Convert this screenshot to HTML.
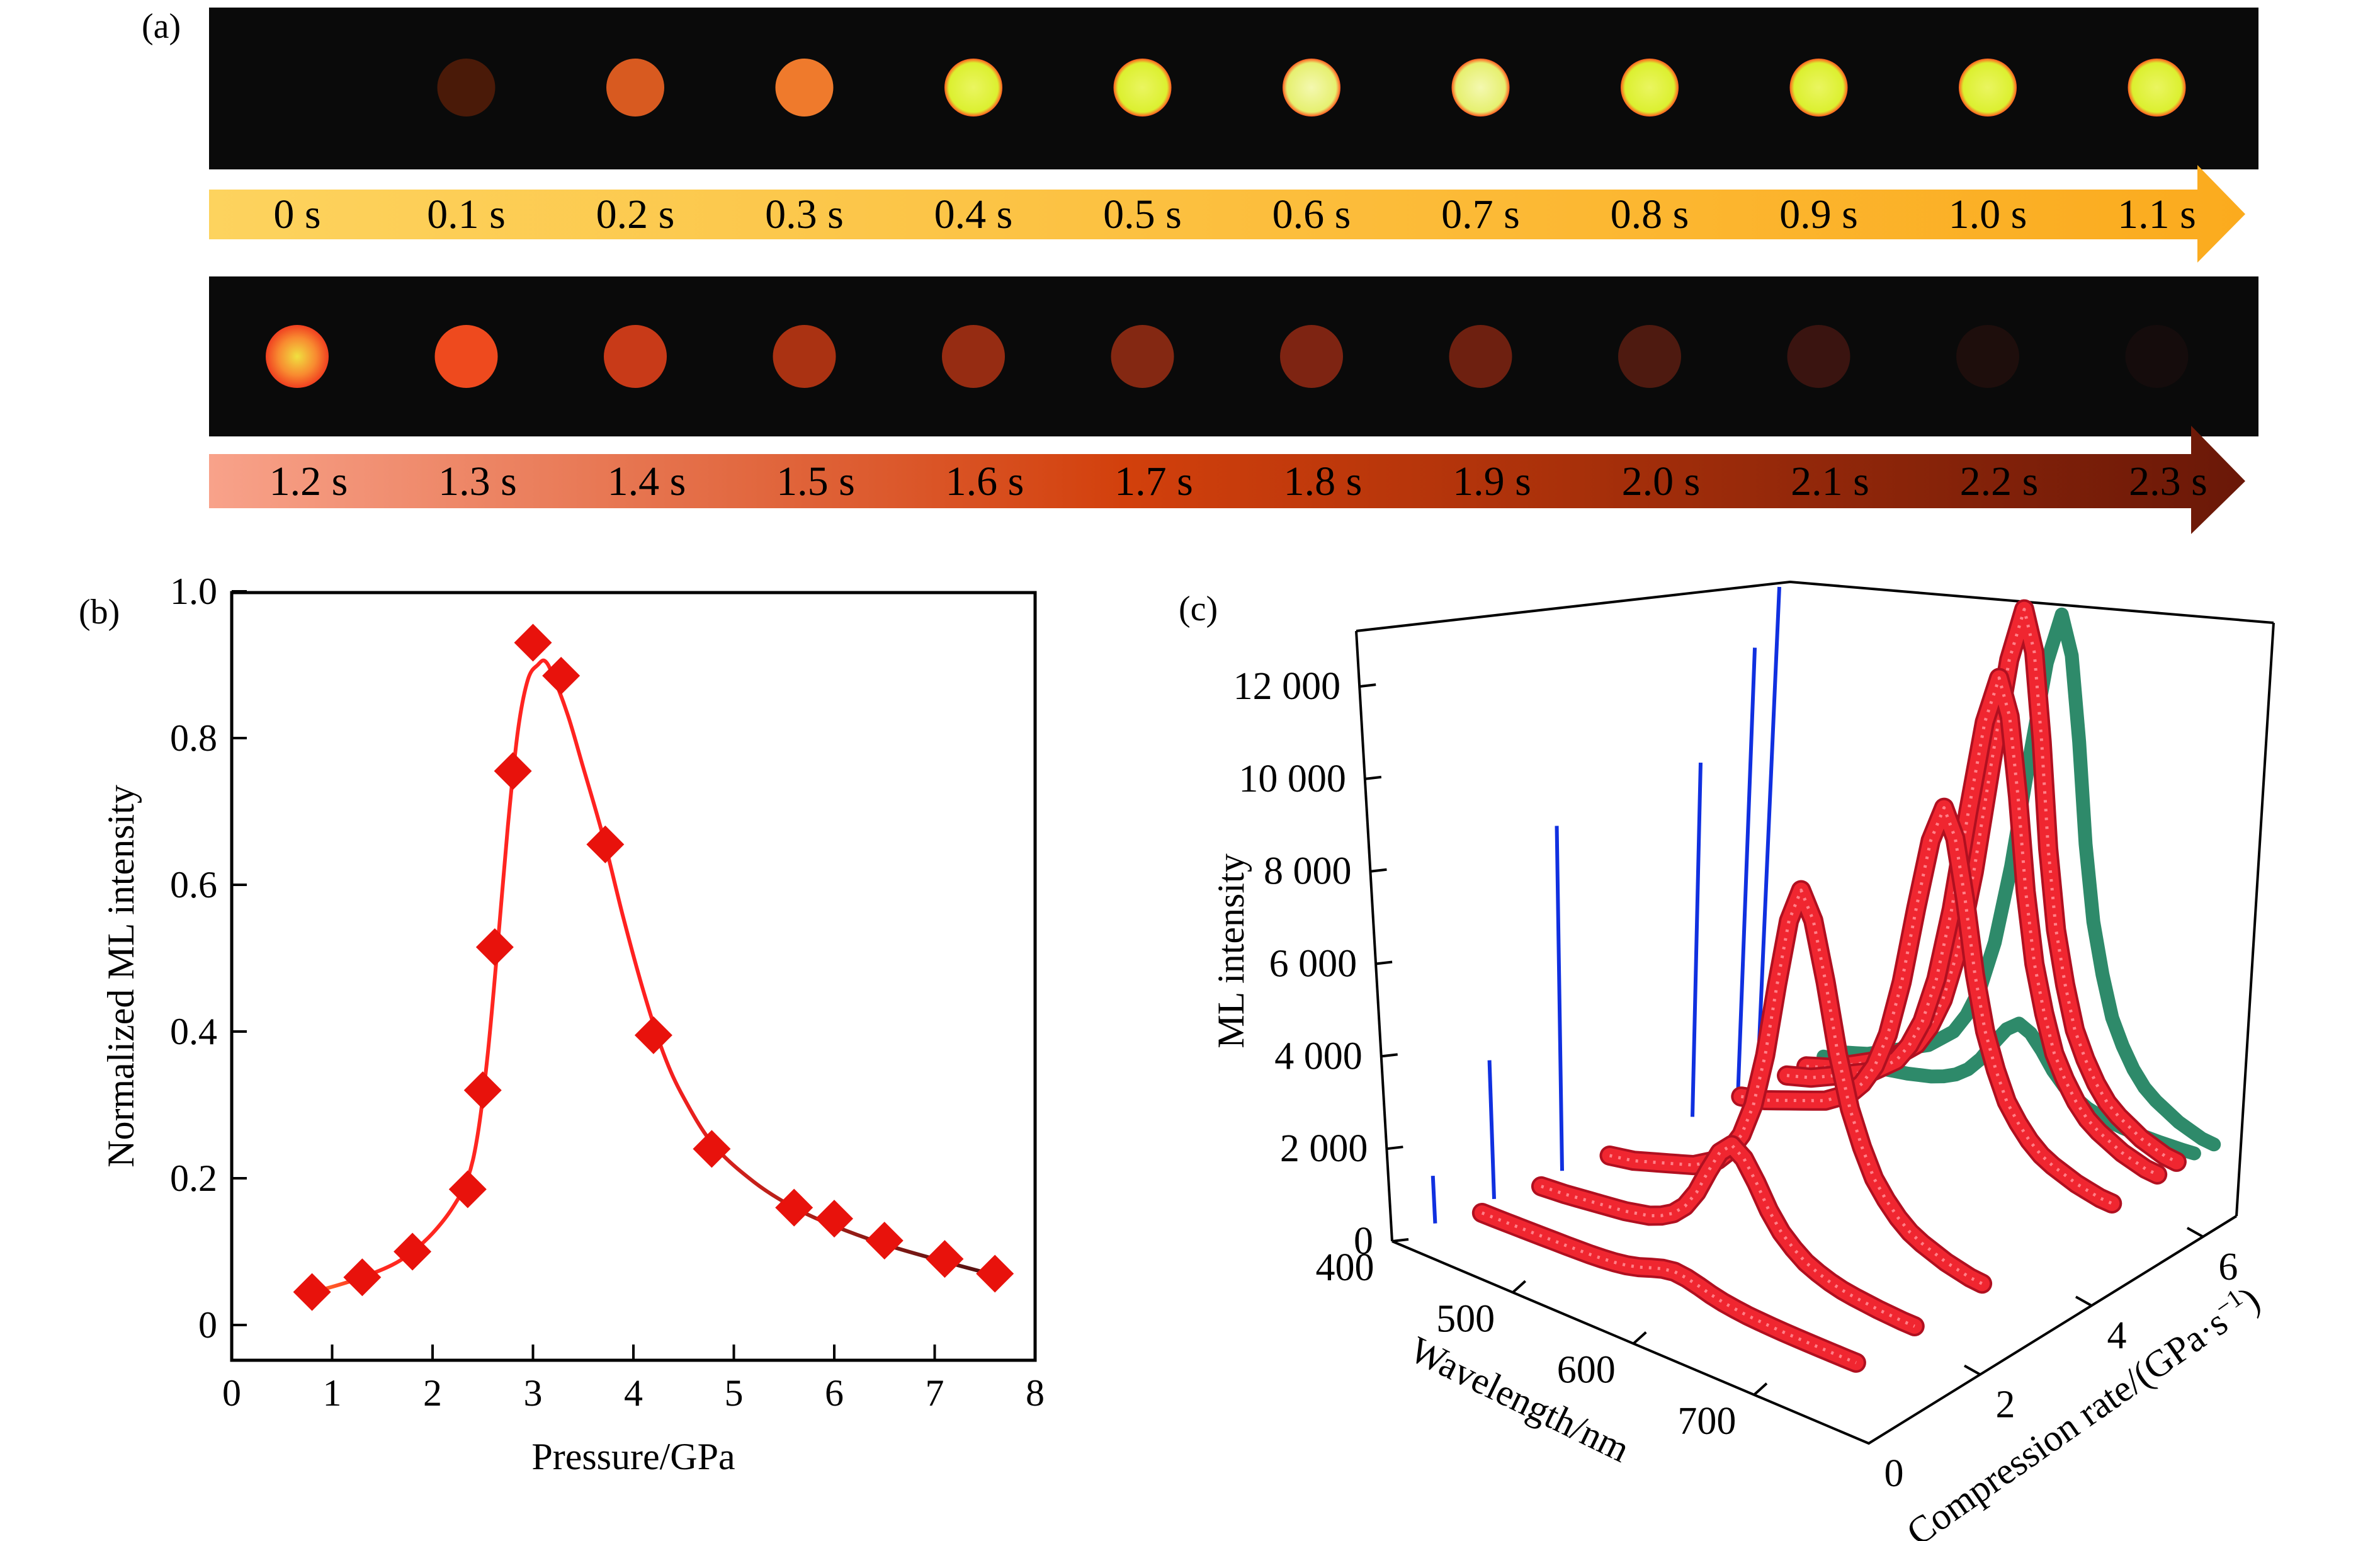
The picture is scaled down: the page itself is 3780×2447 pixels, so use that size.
<!DOCTYPE html>
<html><head><meta charset="utf-8"><style>
html,body{margin:0;padding:0;background:#fff}
svg{display:block}
text{font-family:"Liberation Serif",serif;fill:#000}
</style></head><body>
<svg id="fig" width="3780" height="2447" viewBox="0 0 3780 2447" xmlns="http://www.w3.org/2000/svg">
<defs>
<linearGradient id="gTop" x1="0" x2="1" y1="0" y2="0"><stop offset="0" stop-color="#fdd35e"/><stop offset="1" stop-color="#fbab1e"/></linearGradient>
<linearGradient id="gBot" x1="0" x2="1" y1="0" y2="0"><stop offset="0" stop-color="#f8a28a"/><stop offset="0.45" stop-color="#d2400c"/><stop offset="1" stop-color="#6a1808"/></linearGradient>
<linearGradient id="gFit" gradientUnits="userSpaceOnUse" x1="470" x2="1600" y1="0" y2="0"><stop offset="0" stop-color="#ff8a30"/><stop offset="0.1" stop-color="#ff2a20"/><stop offset="0.5" stop-color="#ff2020"/><stop offset="0.7" stop-color="#b02018"/><stop offset="1" stop-color="#4a1010"/></linearGradient>
<radialGradient id="gYel"><stop offset="0" stop-color="#eaf560"/><stop offset="0.85" stop-color="#dcf030"/><stop offset="1" stop-color="#ff5a20"/></radialGradient>
<radialGradient id="gPale"><stop offset="0" stop-color="#f4f8b0"/><stop offset="0.85" stop-color="#e6f070"/><stop offset="1" stop-color="#ff5a20"/></radialGradient>
<radialGradient id="g12"><stop offset="0" stop-color="#f0e040"/><stop offset="0.6" stop-color="#f88a30"/><stop offset="1" stop-color="#f04020"/></radialGradient>
</defs>

<!-- Panel (a) -->
<g>
<text x="225" y="60" font-size="56">(a)</text>
<rect x="332" y="12" width="3255" height="257" fill="#0a0a0a"/>
<rect x="332" y="439" width="3255" height="254" fill="#0a0a0a"/>
<g id="topCircles"></g>
<g id="botCircles"></g>
<polygon points="332,301 3490,301 3490,262 3566,340 3490,417 3490,380 332,380" fill="url(#gTop)"/>
<polygon points="332,721 3480,721 3480,676 3566,764 3480,848 3480,807 332,807" fill="url(#gBot)"/>
<g id="topLabels"></g>
<g id="botLabels"></g>
</g>

<!-- Panel (b) -->
<g>
<text x="125" y="990" font-size="56">(b)</text>
<rect x="368" y="941" width="1276" height="1219" fill="none" stroke="#000" stroke-width="5"/>
<g id="bTicks"></g>
<path id="fitPath" fill="none" stroke="url(#gFit)" stroke-width="6"/>
<g id="bPoints"></g>
<text x="1006" y="2333" font-size="60" text-anchor="middle">Pressure/GPa</text>
<text transform="translate(212,1550) rotate(-90)" font-size="60" text-anchor="middle">Normalized ML intensity</text>
</g>

<!-- Panel (c) -->
<g>
<text x="1872" y="985" font-size="56">(c)</text>
<g stroke="#000" stroke-width="4" fill="none">
<polyline points="2154,1002 2843,924 3611,989"/>
<line x1="2154" y1="1002" x2="2211" y2="1971"/>
<line x1="3611" y1="989" x2="3552" y2="1931"/>
<polyline points="2211,1971 2968,2292 3552,1931"/>
</g>
<g id="cTicks"></g>
<g id="cSeries"></g>
<text transform="translate(1975,1510) rotate(-90)" font-size="60" text-anchor="middle">ML intensity</text>
<text transform="translate(2405,2240) rotate(26)" font-size="60" text-anchor="middle">Wavelength/nm</text>
<text transform="translate(3320,2265) rotate(-35)" font-size="60" text-anchor="middle">Compression rate/(GPa·s<tspan dy="-22" font-size="40">−1</tspan><tspan dy="22">)</tspan></text>
</g>
</svg>
<script>
var NS='http://www.w3.org/2000/svg';
function mk(tag,attrs,parent){var e=document.createElementNS(NS,tag);for(var k in attrs)e.setAttribute(k,attrs[k]);parent.appendChild(e);return e;}

// ---------- Panel (a) data ----------
var topTimes=['0 s','0.1 s','0.2 s','0.3 s','0.4 s','0.5 s','0.6 s','0.7 s','0.8 s','0.9 s','1.0 s','1.1 s'];
var botTimes=['1.2 s','1.3 s','1.4 s','1.5 s','1.6 s','1.7 s','1.8 s','1.9 s','2.0 s','2.1 s','2.2 s','2.3 s'];
var topFill=['none','#4a1a08','#d85a20','#ef7a2c','url(#gYel)','url(#gYel)','url(#gPale)','url(#gPale)','url(#gYel)','url(#gYel)','url(#gYel)','url(#gYel)'];
var botFill=['url(#g12)','#ee4a1e','#c83a18','#aa3212','#962c12','#842812','#7e2412','#6e2010','#4e1a10','#3a1410','#1e0e0c','#150c0c'];

var tc=document.getElementById('topCircles'),bc=document.getElementById('botCircles');
var tl=document.getElementById('topLabels'),bl=document.getElementById('botLabels');
for(var i=0;i<12;i++){
  var cx=472+268.5*i;
  if(topFill[i]!=='none'){var c=mk('circle',{cx:cx,cy:139,r:46,fill:topFill[i]},tc);
    
    }
  var c2=mk('circle',{cx:cx,cy:566,r:50,fill:botFill[i]},bc);
  
  
  var t=mk('text',{x:cx,y:362,'font-size':66,'text-anchor':'middle'},tl);t.textContent=topTimes[i];
  
  
  var t2=mk('text',{x:cx+18,y:786,'font-size':66,'text-anchor':'middle'},bl);t2.textContent=botTimes[i];
  
  
}

// ---------- Panel (b) data ----------
var pressure=[0.8,1.3,1.8,2.35,2.5,2.62,2.8,3.0,3.28,3.72,4.2,4.78,5.6,6.0,6.5,7.1,7.6];
var intensity=[0.045,0.065,0.1,0.185,0.32,0.515,0.755,0.93,0.885,0.655,0.395,0.24,0.16,0.145,0.115,0.09,0.07];
var fitX=[0.8,1.0,1.3,1.6,1.8,2.0,2.2,2.35,2.45,2.55,2.65,2.75,2.85,2.95,3.05,3.12,3.2,3.35,3.5,3.7,3.9,4.1,4.3,4.5,4.8,5.2,5.6,6.0,6.5,7.0,7.6];
var fitY=[0.045,0.052,0.065,0.082,0.1,0.125,0.16,0.2,0.26,0.37,0.52,0.68,0.81,0.88,0.9,0.905,0.885,0.83,0.76,0.665,0.555,0.455,0.37,0.31,0.245,0.195,0.16,0.135,0.11,0.09,0.068];
var xTicks=[0,1,2,3,4,5,6,7,8];
var yTicks=[0,0.2,0.4,0.6,0.8,1.0];
var yTickLabels=['0','0.2','0.4','0.6','0.8','1.0'];
function bx(v){return 368+v*(1644-368)/8;}
function by(v){return 2104-v*1165;}
var bt=document.getElementById('bTicks');
xTicks.forEach(function(v){
  var l=mk('line',{x1:bx(v),x2:bx(v),y1:2160,y2:2135,stroke:'#000','stroke-width':4},bt);
  
  
  var t=mk('text',{x:bx(v),y:2232,'font-size':60,'text-anchor':'middle'},bt);t.textContent=v;
  
  
});
yTicks.forEach(function(v,k){
  var l=mk('line',{x1:368,x2:392,y1:by(v),y2:by(v),stroke:'#000','stroke-width':4},bt);
  
  
  var t=mk('text',{x:345,y:by(v)+20,'font-size':60,'text-anchor':'end'},bt);t.textContent=yTickLabels[k];
  
  
});
(function(){
  var p=fitX.map(function(x,i){return [bx(x),by(fitY[i])];});
  var d='M'+p[0][0]+','+p[0][1];
  for(var i=0;i<p.length-1;i++){
    var p0=p[Math.max(0,i-1)],p1=p[i],p2=p[i+1],p3=p[Math.min(p.length-1,i+2)];
    d+=' C'+(p1[0]+(p2[0]-p0[0])/6)+','+(p1[1]+(p2[1]-p0[1])/6)+' '+(p2[0]-(p3[0]-p1[0])/6)+','+(p2[1]-(p3[1]-p1[1])/6)+' '+p2[0]+','+p2[1];
  }
  document.getElementById('fitPath').setAttribute('d',d);
})();
var bp=document.getElementById('bPoints');
pressure.forEach(function(x,i){
  var X=bx(x),Y=by(intensity[i]),h=30;
  var m=mk('polygon',{points:X+','+(Y-h)+' '+(X+h)+','+Y+' '+X+','+(Y+h)+' '+(X-h)+','+Y,fill:'#e8120c'},bp);
  
  
});

// ---------- Panel (c) data ----------
var zTicks=[0,2000,4000,6000,8000,10000,12000];
var zTickLabels=['0','2 000','4 000','6 000','8 000','10 000','12 000'];
var wTicks=[400,500,600,700];
var rTicks=[0,2,4,6];
var wavelengths=[440,450,460,470,480,490,500,510,520,530,540,550,560,570,580,590,600,610,620,630,640,650,660,670,680,690,700,710,720,730,740,750];
var specShape=[0.02,0.025,0.03,0.04,0.05,0.06,0.07,0.08,0.1,0.12,0.16,0.22,0.32,0.48,0.7,0.9,1.0,0.92,0.75,0.55,0.4,0.3,0.22,0.17,0.13,0.1,0.08,0.065,0.05,0.04,0.03,0.025];
var redRates=[0.76,1.8,3.0,5.3,6.1,6.44];
var redPeaks=[400,2500,7500,8200,10900,12400];
var redBase=[650,650,600,700,700,700];
var greenRates=[6.2,6.55];
var greenPeaks=[2000,11800];
var greenBase=[1500,1200];

// trilinear mapping of the 3D box (w 400..795, r 0..6.6, I 0..13200) to screen
var W0=400,W1=795,R1=6.6,I1=13200;
var C000=[2211,1971],C100=[2968,2292],C010=[2805,1725],C110=[3552,1931];
var C001=[2154,1002],C101=[2935,1240],C011=[2843,924],C111=[3611,989];
function lerp(a,b,t){return [a[0]+(b[0]-a[0])*t,a[1]+(b[1]-a[1])*t];}
function P(w,r,I){
  var t=(w-W0)/(W1-W0),u=r/R1,v=I/I1;
  var bot=lerp(lerp(C000,C100,t),lerp(C010,C110,t),u);
  var top=lerp(lerp(C001,C101,t),lerp(C011,C111,t),u);
  return lerp(bot,top,v);
}
var ct=document.getElementById('cTicks');
zTicks.forEach(function(v,k){
  var a=P(400,0,v);
  var l=mk('line',{x1:a[0],y1:a[1],x2:a[0]+26,y2:a[1]-3,stroke:'#000','stroke-width':4},ct);
  
  
  var t=mk('text',{x:a[0]-30,y:a[1]+20,'font-size':62,'text-anchor':'end'},ct);t.textContent=zTickLabels[k];
  
  
});
wTicks.forEach(function(v){
  var a=P(v,0,0);
  if(v>400){var l=mk('line',{x1:a[0],y1:a[1],x2:a[0]+20,y2:a[1]-18,stroke:'#000','stroke-width':4},ct);
  
  }
  var t=mk('text',{x:a[0]-75,y:a[1]+62,'font-size':62,'text-anchor':'middle'},ct);t.textContent=v;
  
  
});
rTicks.forEach(function(v){
  var a=P(W1,v,0);
  if(v>0){var l=mk('line',{x1:a[0],y1:a[1],x2:a[0]-25,y2:a[1]-14,stroke:'#000','stroke-width':4},ct);
  
  }
  var t=mk('text',{x:a[0]+40,y:a[1]+68,'font-size':62,'text-anchor':'middle'},ct);t.textContent=v;
  
  
});
var cs=document.getElementById('cSeries');
function spectrumPts(r,peak,base,shift){
  return wavelengths.map(function(w,i){var q=P(w+shift,r,base+peak*specShape[i]);return q[0].toFixed(1)+','+q[1].toFixed(1);}).join(' ');
}
greenRates.forEach(function(r,k){
  var pl=mk('polyline',{points:spectrumPts(r,greenPeaks[k],greenBase[k],25),fill:'none',stroke:'#2e8a6a','stroke-width':22,'stroke-linejoin':'round','stroke-linecap':'round'},cs);
  
  
});
redRates.forEach(function(r,k){
  var a=P(400,r,0),b=P(400,r,redPeaks[k]+redBase[k]);
  var l=mk('line',{x1:a[0],y1:a[1],x2:b[0],y2:b[1],stroke:'#1030e0','stroke-width':6},cs);
  
  
});
for(var k=redRates.length-1;k>=0;k--){
  var pts=spectrumPts(redRates[k],redPeaks[k],redBase[k],0);
  var g=mk('g',{},cs);
  
  
  mk('polyline',{points:pts,fill:'none',stroke:'#b01020','stroke-width':32,'stroke-linejoin':'round','stroke-linecap':'round'},g);
  mk('polyline',{points:pts,fill:'none',stroke:'#f02630','stroke-width':24,'stroke-linejoin':'round','stroke-linecap':'round'},g);
  mk('polyline',{points:pts,fill:'none',stroke:'#ff8088','stroke-width':5,'stroke-dasharray':'4 10','stroke-linejoin':'round'},g);
}
</script>
</body></html>
